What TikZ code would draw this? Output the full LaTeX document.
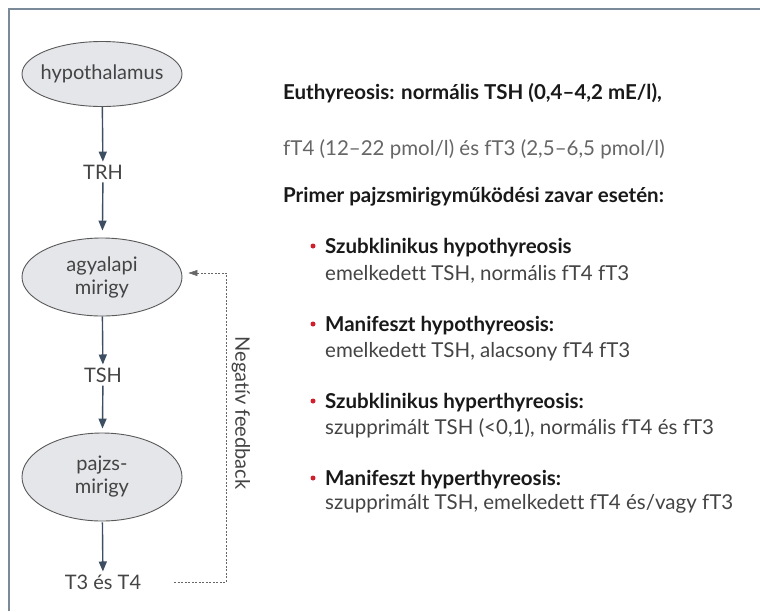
\documentclass[tikz,border=0pt]{standalone}
\usepackage{fontspec}
\setmainfont{Lato}[Ligatures=NoCommon]
\usetikzlibrary{positioning,calc,arrows.meta,shapes.geometric}
\definecolor{framegray}{HTML}{7B8A99}
\definecolor{glandfill}{HTML}{E4E6EA}
\definecolor{arrowblue}{HTML}{3E4E62}
\definecolor{textgray}{HTML}{444444}
\definecolor{bulletred}{HTML}{D0202E}

\begin{document}
\begin{tikzpicture}[x=1pt,y=-1pt,
				gland/.style={ellipse,draw=black!65,fill=glandfill,line width=0.9pt,minimum width=160pt,align=center,inner xsep=-5pt,inner ysep=0pt,font=\fontsize{20}{23}\selectfont,text=textgray},
				hormone/.style={inner sep=3pt,font=\fontsize{20}{23}\selectfont,text=textgray},
				arr/.style={-{Triangle[length=10pt,width=8pt]},draw=arrowblue,line width=1.4pt},
				fb/.style={-{Triangle[length=9pt,width=6pt]},draw=black!60,dashed,dash pattern=on 2pt off 1.5pt,line width=0.6pt},
				head/.style={anchor=west,inner sep=0pt,font=\fontsize{20.5}{24}\selectfont\bfseries,text=black!90},
				line/.style={anchor=west,inner sep=0pt,font=\fontsize{20.5}{24}\selectfont,text=textgray},
				dot/.style={circle,fill=bulletred,inner sep=0pt,minimum size=5pt}]
				\useasboundingbox[fill=white] (0,0) rectangle (760,611);
				\draw[framegray,line width=2pt] (9,611) |- (760,9);
				
				% left column
				\node[gland,minimum height=65pt] (HYPO) at (102,74) {hypothalamus};
				\node[hormone] (TRH)   at (103,172) {TRH};
				\node[gland,minimum height=78pt] (AGY) at (102,277) {agyalapi\\mirigy};
				\node[hormone] (TSH)   at (103,375) {TSH};
				\node[gland,minimum height=88pt] (PAJZS) at (102,477) {pajzs-\\mirigy};
				\node[hormone] (T3T4)  at (103,582) {T3 és T4};
				
				\draw[arr]                  (HYPO) -- (TRH);
				\draw[arr,shorten >=7pt]    (TRH) -- (AGY);
				\draw[arr]                  (AGY) -- (TSH);
				\draw[arr,shorten >=4pt]    (TSH) -- (PAJZS);
				\draw[arr,shorten <=1pt]    (PAJZS) -- (T3T4);
				\draw[fb,shorten <=30pt,shorten >=6pt] (T3T4.east) -| ($(AGY.east)+(44,-4)$) -- ($(AGY.east)+(0,-4)$);
				\node[rotate=-90,font=\fontsize{20}{23}\selectfont,text=textgray] (NEG) at (241,413) {Negatív feedback};
				
				% right column
				\node[head] (EU)     at (283,93)  {Euthyreosis: normális TSH (0,4–4,2 mE/l),};
				\node[line,text=black!60] (FT) at (283,149) {fT4 (12–22 pmol/l) és fT3 (2,5–6,5 pmol/l)};
				\node[head] (PRIMER) at (283,197) {Primer pajzsmirigyműködési zavar esetén:};
				
				\node[head] (SZHO)   at (325,248) {Szubklinikus hypothyreosis};
				\node[line] (SZHOd)  at ($(SZHO.west)+(0,26)$) {emelkedett TSH, normális fT4 fT3};
				\node[head] (MAHO)   at (325,326) {Manifeszt hypothyreosis:};
				\node[line] (MAHOd)  at ($(MAHO.west)+(0,26)$) {emelkedett TSH, alacsony fT4 fT3};
				\node[head] (SZHE)   at (325,403) {Szubklinikus hyperthyreosis:};
				\node[line] (SZHEd)  at ($(SZHE.west)+(0,25)$) {szupprimált TSH (<0,1), normális fT4 és fT3};
				\node[head] (MAHE)   at (325,480) {Manifeszt hyperthyreosis:};
				\node[line] (MAHEd)  at ($(MAHE.west)+(0,24)$) {szupprimált TSH, emelkedett fT4 és/vagy fT3};
				
				\node[dot] (B1) at (313,246) {};
				\node[dot] (B2) at (313,324) {};
				\node[dot] (B3) at (313,401) {};
				\node[dot] (B4) at (313,478) {};
			\end{tikzpicture}
\end{document}
